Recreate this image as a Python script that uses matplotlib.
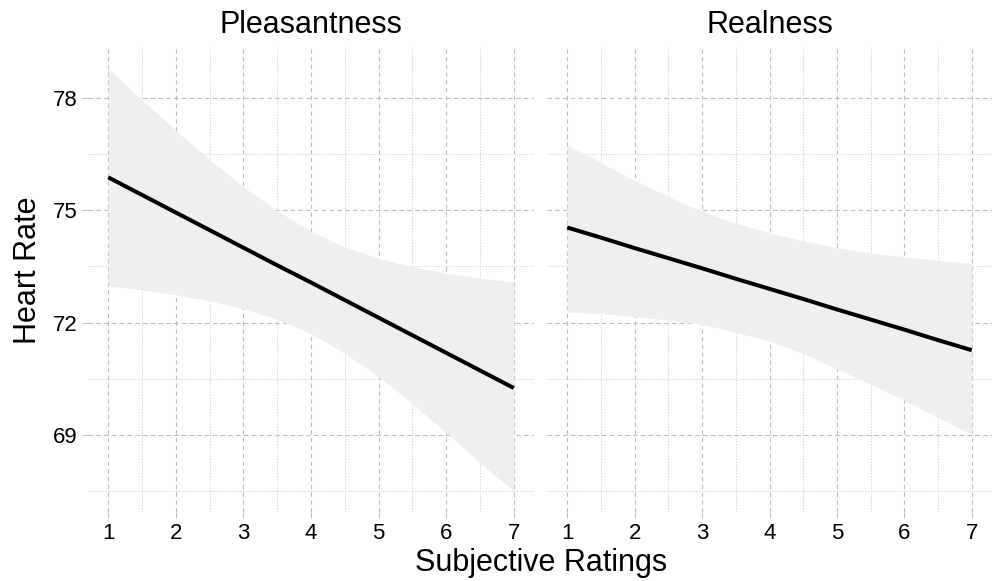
import matplotlib
matplotlib.use("Agg")
import matplotlib.pyplot as plt
import numpy as np

plt.rcParams['font.family'] = ['Liberation Sans', 'DejaVu Sans']

# Rating grid at which the fitted lines and confidence bands are given
ratings = [1.0, 1.5, 2.0, 2.5, 3.0, 3.5, 4.0, 4.5, 5.0, 5.5, 6.0, 6.5, 7.0]

# Pleasantness: fitted heart rate and 95% band
pleas_fit = [75.88, 75.41, 74.94, 74.47, 74.00, 73.53, 73.07, 72.60, 72.13, 71.66, 71.19, 70.72, 70.25]
pleas_upper = [78.80, 77.95, 77.14, 76.36, 75.63, 74.98, 74.44, 74.02, 73.72, 73.49, 73.32, 73.19, 73.08]
pleas_lower = [72.98, 72.87, 72.74, 72.58, 72.37, 72.09, 71.70, 71.18, 70.55, 69.83, 69.06, 68.25, 67.50]

# Realness: fitted heart rate and 95% band
real_fit = [74.54, 74.27, 73.99, 73.72, 73.45, 73.17, 72.90, 72.63, 72.35, 72.08, 71.81, 71.53, 71.26]
real_upper = [76.75, 76.27, 75.80, 75.37, 74.97, 74.65, 74.40, 74.18, 74.00, 73.86, 73.76, 73.66, 73.58]
real_lower = [72.28, 72.24, 72.16, 72.06, 71.95, 71.74, 71.50, 71.17, 70.76, 70.35, 69.92, 69.46, 69.00]

panel_titles = ["Pleasantness", "Realness"]
x_ticks = [1, 2, 3, 4, 5, 6, 7]
y_ticks = [69, 72, 75, 78]
y_minor = [67.5, 70.5, 73.5, 76.5]
x_minor = [1.5, 2.5, 3.5, 4.5, 5.5, 6.5]

panels = [
    (pleas_fit, pleas_upper, pleas_lower),
    (real_fit, real_upper, real_lower),
]

fig = plt.figure(figsize=(9.92, 5.81), dpi=100)
W, H = 992, 581
bottom_px, top_px = 512, 47
ax_left = fig.add_axes([88 / W, 1 - bottom_px / H, 446 / W, (bottom_px - top_px) / H])
ax_right = fig.add_axes([547 / W, 1 - bottom_px / H, 445 / W, (bottom_px - top_px) / H],
                        sharey=ax_left)
axes = [ax_left, ax_right]

all_lo = min(min(pleas_lower), min(real_lower))
all_hi = max(max(pleas_upper), max(real_upper))
pad = 0.05 * (all_hi - all_lo)

major_col = "#bdbdbd"
minor_col = "#d6d6d6"

for i, (ax, (fit, up, lo)) in enumerate(zip(axes, panels)):
    ax.fill_between(ratings, lo, up, color="#efefef", linewidth=0, zorder=2)
    ax.plot(ratings, fit, color="black", linewidth=2.9, solid_capstyle="butt", zorder=3)

    ax.set_xlim(0.7, 7.3)
    ax.set_ylim(all_lo - pad, all_hi + pad)
    ax.set_xticks(x_ticks)
    ax.set_xticks(x_minor, minor=True)
    ax.set_yticks(y_ticks)
    ax.set_yticks(y_minor, minor=True)

    ax.grid(which="major", color=major_col, linestyle=(0, (4, 3)), linewidth=0.8, zorder=1)
    ax.grid(which="minor", color=minor_col, linestyle=(0, (1.5, 1.5)), linewidth=0.7, zorder=1)
    ax.set_axisbelow(True)
    for s in ax.spines.values():
        s.set_visible(False)

    ax.tick_params(axis="x", which="major", length=4, width=0.7, color=major_col,
                   labelsize=16, pad=4, labelcolor="black")
    ax.tick_params(axis="x", which="minor", length=0)
    if i == 0:
        ax.tick_params(axis="y", which="major", length=4.5, width=0.7, color=major_col,
                       labelsize=16, pad=3, labelcolor="black")
    else:
        ax.tick_params(axis="y", which="major", length=0, labelleft=False)
    ax.tick_params(axis="y", which="minor", length=0)

    ax.set_title(panel_titles[i], fontsize=22, pad=10)

fig.text(541 / W, 1 - 563 / H, "Subjective Ratings", fontsize=22,
         ha="center", va="center")
fig.text(28 / W, 1 - 270 / H, "Heart Rate", fontsize=22, rotation=90,
         ha="center", va="center")

fig.savefig("out.png", dpi=100)
